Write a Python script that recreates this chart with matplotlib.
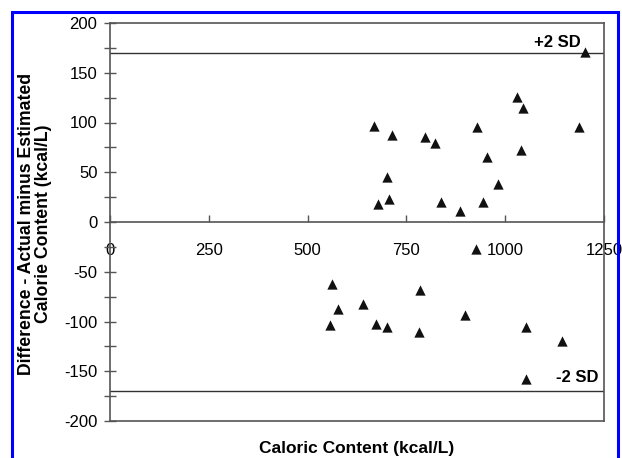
import matplotlib.pyplot as plt
from matplotlib.patches import Rectangle
from matplotlib.ticker import MultipleLocator

plt.rcParams['font.family'] = ['Liberation Sans', 'DejaVu Sans']
plt.rcParams['axes.unicode_minus'] = False

# Bland-Altman style data: caloric content vs difference (actual - estimated)
caloric = [1201, 1029, 1044, 669, 714, 798, 822, 928, 1187, 1040, 955, 700, 983,
           677, 707, 838, 945, 885,
           926, 562, 785, 640, 577, 898, 556, 673, 700, 781, 1053, 1144, 1053]
difference = [171, 126, 115, 96, 87, 85, 79, 95, 95, 72, 65, 45, 38,
              18, 23, 20, 20, 11,
              -27, -62, -68, -82, -87, -93, -104, -103, -106, -111, -106, -120, -158]
sd_limits = [170, -170]
sd_labels = ['+2 SD', '-2 SD']

fig = plt.figure(figsize=(6.22, 4.58), dpi=100)
ax = fig.add_axes([110 / 622, 1 - 421 / 458, 494 / 622, 398 / 458])

ax.scatter(caloric, difference, marker='^', s=55, color='#111111', zorder=3, linewidths=0)

for lim in sd_limits:
    ax.axhline(lim, color='#333333', lw=1.0)

ax.text(1192, 180, sd_labels[0], ha='right', va='center', fontsize=12, fontweight='bold')
ax.text(1237, -156, sd_labels[1], ha='right', va='center', fontsize=12, fontweight='bold')

ax.set_xlim(0, 1250)
ax.set_ylim(-200, 200)

# x axis runs through zero, box bottom drawn separately
ax.spines['bottom'].set_position(('data', 0))
ax.axhline(-200, color='#555555', lw=1.2, clip_on=False)
for s in ax.spines.values():
    s.set_color('#555555')
    s.set_linewidth(1.2)

ax.xaxis.set_major_locator(MultipleLocator(250))
ax.yaxis.set_major_locator(MultipleLocator(50))
ax.yaxis.set_minor_locator(MultipleLocator(25))
ax.tick_params(axis='x', direction='in', length=5, width=1, color='#555555',
               pad=15, labelsize=12)
ax.tick_params(axis='y', which='both', direction='inout', length=8, width=1,
               color='#555555', labelsize=12)
ax.tick_params(axis='y', which='major', pad=5)

fig.text(35 / 622, 1 - 224 / 458,
         'Difference - Actual minus Estimated\nCalorie Content (kcal/L)',
         rotation=90, ha='center', va='center', fontsize=12.7, fontweight='bold',
         multialignment='center', linespacing=1.05)
fig.text(357 / 622, 1 - 449 / 458, 'Caloric Content (kcal/L)', ha='center', va='center',
         fontsize=12.5, fontweight='bold')

# blue frame round the figure
fig.patches.append(Rectangle((12 / 622, -0.1), 605.5 / 622, 1 - 12 / 458 + 0.1,
                             transform=fig.transFigure, fill=False,
                             edgecolor='#0000ff', lw=2.2, clip_on=False, zorder=5))

fig.savefig('out.png', dpi=100)
